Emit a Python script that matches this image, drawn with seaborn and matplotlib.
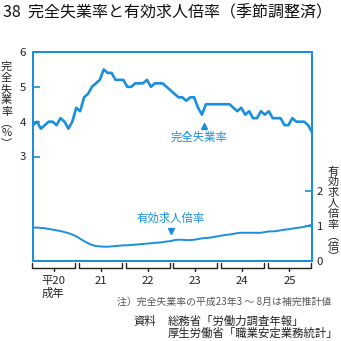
import numpy as np
import pandas as pd
import matplotlib
matplotlib.use("Agg")
import matplotlib.pyplot as plt
import matplotlib.transforms as mtransforms
import seaborn as sns

# Year labels (Heisei era) for each 12-month block
year_labels = ["平20\n成年", "21", "22", "23", "24", "25"]

# Unemployment rate (%), monthly, seasonally adjusted
unemployment = [
    3.9, 4.0, 3.8, 3.9, 4.0, 4.0, 3.9, 4.1, 4.0, 3.8, 4.0, 4.4,
    4.3, 4.7, 4.8, 5.0, 5.1, 5.2, 5.5, 5.4, 5.4, 5.2, 5.2, 5.2,
    5.0, 5.0, 5.1, 5.1, 5.1, 5.2, 5.0, 5.1, 5.1, 5.1, 5.0, 4.9,
    4.8, 4.7, 4.7, 4.6, 4.7, 4.7, 4.4, 4.2, 4.5, 4.5, 4.5, 4.5,
    4.5, 4.5, 4.5, 4.4, 4.3, 4.4, 4.2, 4.3, 4.1, 4.1, 4.3, 4.2,
    4.3, 4.1, 4.1, 4.1, 3.9, 3.9, 4.1, 4.0, 4.0, 4.0, 3.9, 3.7,
]

# Job openings-to-applicants ratio (times), monthly, seasonally adjusted
job_ratio = [
    0.96, 0.96, 0.95, 0.94, 0.92, 0.90, 0.88, 0.86, 0.83, 0.80, 0.76, 0.71,
    0.64, 0.57, 0.51, 0.46, 0.43, 0.42, 0.41, 0.41, 0.42, 0.43, 0.44, 0.45,
    0.45, 0.46, 0.47, 0.48, 0.49, 0.50, 0.51, 0.52, 0.53, 0.54, 0.56, 0.57,
    0.60, 0.61, 0.61, 0.60, 0.60, 0.61, 0.63, 0.65, 0.66, 0.67, 0.69, 0.71,
    0.73, 0.75, 0.76, 0.78, 0.80, 0.81, 0.81, 0.81, 0.81, 0.81, 0.81, 0.83,
    0.85, 0.85, 0.86, 0.88, 0.90, 0.91, 0.93, 0.95, 0.96, 0.98, 1.01, 1.04,
]

left_ticks = [3, 4, 5, 6]
right_ticks = [0, 1, 2]

sns.set_style("white")
plt.rcParams["font.family"] = ["Noto Sans CJK JP", "DejaVu Sans"]

BLUE = "#1a8fdc"
TEXT = "#222222"
W = H = 341.0


def fx(px):
    return px / W


def fy(py):
    return 1 - py / H


months = np.arange(len(unemployment))
df = pd.DataFrame({"month": months,
                   "unemployment": unemployment,
                   "job_ratio": job_ratio})

fig = plt.figure(figsize=(3.41, 3.41), dpi=100)
ax = fig.add_axes([fx(33), fy(261), (312 - 33) / W, (261 - 52) / H])
ax2 = ax.twinx()

sns.lineplot(data=df, x="month", y="unemployment", ax=ax,
             color=BLUE, linewidth=1.9)
sns.lineplot(data=df, x="month", y="job_ratio", ax=ax2,
             color=BLUE, linewidth=1.4)

ax.set_xlim(0, len(months) - 1)
ax.set_ylim(0, 6)
ax2.set_ylim(0, 6)
for a in (ax, ax2):
    a.set_xlabel("")
    a.set_ylabel("")
    for sp in a.spines.values():
        sp.set_color(BLUE)
        sp.set_linewidth(1.3)

# Monthly comb ticks along the bottom
ax.set_xticks(months)
ax.tick_params(axis="x", direction="in", length=4, width=0.8,
               color=BLUE, labelbottom=False)

ax.set_yticks(left_ticks)
ax.tick_params(axis="y", direction="in", length=5, width=1.2, color=BLUE,
               labelsize=8.2, labelcolor=TEXT, pad=5)
ax2.set_yticks(right_ticks)
ax2.tick_params(axis="y", direction="in", length=5, width=1.2, color=BLUE,
                labelsize=8.2, labelcolor=TEXT, pad=3.5)

# Series annotations
dip = 43
ax.text(dip - 0.7, 3.55, "完全失業率", color=BLUE, fontsize=8.2,
        ha="center", va="center")
ax.plot([dip + 0.6], [unemployment[dip] - 0.33], marker="^", ms=5,
        color=BLUE, clip_on=False)
jr = 35
ax2.text(jr, 1.22, "有効求人倍率", color=BLUE, fontsize=8.2,
         ha="center", va="center")
ax2.plot([jr + 0.2], [job_ratio[jr] + 0.29], marker="v", ms=5,
         color=BLUE, clip_on=False)

# Year brackets under the axis
trans = mtransforms.blended_transform_factory(ax.transData, fig.transFigure)
yT, yB, yN = fy(263), fy(268), fy(270.5)
for k, lab in enumerate(year_labels):
    x0, x1 = 12 * k - 0.25, 12 * k + 10.75
    xc = (x0 + x1) / 2
    ax.plot([x0, x0, x1, x1], [yT, yB, yB, yT], color="#222222", lw=1.0,
            transform=trans, clip_on=False, solid_joinstyle="round")
    ax.plot([xc, xc], [yB, yN], color="#222222", lw=1.0,
            transform=trans, clip_on=False)
    ax.text(xc, fy(276), lab, transform=trans, ha="center", va="top",
            multialignment="left", fontsize=8.2, color=TEXT, linespacing=1.15)

# Vertical axis titles, one character per row
left_chars = ["完", "全", "失", "業", "率", "︵", "%", "︶"]
left_y = [66.7, 78, 89.2, 100.5, 111.7, 123.5, 133.5, 143]
for ch, py in zip(left_chars, left_y):
    fig.text(fx(6.5), fy(py), ch, ha="center", va="center",
             fontsize=8.0, color=TEXT)

right_chars = ["有", "効", "求", "人", "倍", "率", "︵", "倍", "︶"]
right_y = [171.5, 182.2, 192.9, 203.6, 214.3, 225, 236, 246.5, 256.5]
for ch, py in zip(right_chars, right_y):
    fig.text(fx(333), fy(py), ch, ha="center", va="center",
             fontsize=8.0, color=TEXT)

# Title
fig.text(fx(3), fy(13), "38  完全失業率と有効求人倍率（季節調整済）",
         ha="left", va="center", fontsize=11.5, color="#111111")

# Note and sources
fig.text(fx(331), fy(302), "注）完全失業率の平成23年3 ～ 8月は補完推計値",
         ha="right", va="center", fontsize=7.1, color="#555555")
fig.text(fx(133), fy(321), "資料", ha="left", va="center",
         fontsize=8.2, color=TEXT)
fig.text(fx(168), fy(321), "総務省「労働力調査年報」", ha="left",
         va="center", fontsize=8.2, color=TEXT)
fig.text(fx(168), fy(333), "厚生労働省「職業安定業務統計」", ha="left",
         va="center", fontsize=8.2, color=TEXT)

fig.savefig("out.png", dpi=100, facecolor="white")
